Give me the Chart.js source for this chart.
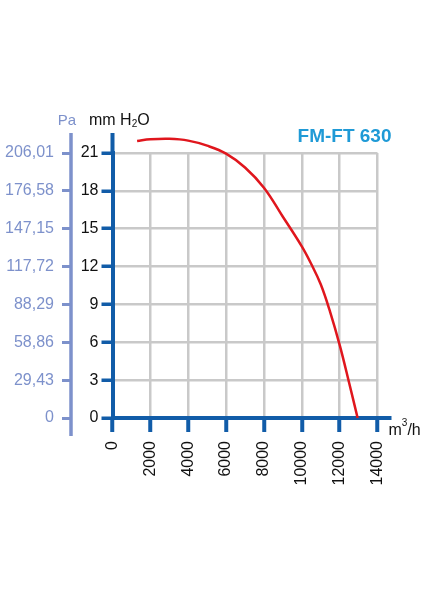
<!DOCTYPE html>
<html>
<head>
<meta charset="utf-8">
<script src="https://cdn.jsdelivr.net/npm/chart.js@4/dist/chart.umd.min.js"></script>
<style>
  html, body { margin: 0; padding: 0; background: #fff; }
</style>
</head>
<body>
<canvas id="fanChart" width="424" height="600"></canvas>
<script>
// fan curve FM-FT 630
const flowRate = [1300, 2000, 3000, 4000, 5000, 6000, 7000, 8000, 9000, 10000, 10500, 11000, 11500, 12000, 12500, 12950];
const pressureMm = [21.95, 22.08, 22.12, 21.98, 21.58, 20.95, 19.85, 18.25, 15.95, 13.6, 12.2, 10.6, 8.4, 5.8, 2.8, 0];

const xTicks = [0, 2000, 4000, 6000, 8000, 10000, 12000, 14000];
const mmTicks = [0, 3, 6, 9, 12, 15, 18, 21];
const paLabels = ['0', '29,43', '58,86', '88,29', '117,72', '147,15', '176,58', '206,01'];

const BLUE = '#115ca8';
const PA_BLUE = '#7d91cb';
const GRID = '#c9c9c9';
const RED = '#e0161d';
const FONT = '"Liberation Sans", Arial, sans-serif';

const noZero = c => (c.tick && c.tick.value === 0 ? 'rgba(0,0,0,0)' : GRID);

// axis overhangs, unit labels and model name
const extras = {
    id: 'extras',
    afterDraw(chart) {
        const { ctx, chartArea, scales } = chart;
        const top = chartArea.top - 20;
        const paX = scales.yPa.right - 1;
        ctx.save();
        ctx.lineCap = 'butt';

        ctx.strokeStyle = BLUE;
        ctx.lineWidth = 4;
        ctx.beginPath();
        ctx.moveTo(chartArea.left, chartArea.top);
        ctx.lineTo(chartArea.left, top);
        ctx.moveTo(chartArea.right, chartArea.bottom);
        ctx.lineTo(chartArea.right + 14, chartArea.bottom);
        ctx.stroke();

        ctx.strokeStyle = PA_BLUE;
        ctx.lineWidth = 3.5;
        ctx.beginPath();
        ctx.moveTo(paX, top);
        ctx.lineTo(paX, chartArea.bottom + 18);
        ctx.stroke();

        ctx.textBaseline = 'alphabetic';
        ctx.fillStyle = PA_BLUE;
        ctx.font = '15px ' + FONT;
        ctx.textAlign = 'center';
        ctx.fillText('Pa', paX - 4, top - 8);

        ctx.fillStyle = '#111';
        ctx.font = '16px ' + FONT;
        ctx.textAlign = 'left';
        let tx = 89;
        ctx.fillText('mm H', tx, top - 8);
        tx += ctx.measureText('mm H').width;
        ctx.font = '10px ' + FONT;
        ctx.fillText('2', tx, top - 6);
        tx += ctx.measureText('2').width;
        ctx.font = '16px ' + FONT;
        ctx.fillText('O', tx, top - 8);

        ctx.font = '16px ' + FONT;
        ctx.fillText('m', chartArea.right + 11, chartArea.bottom + 17);
        let mx = chartArea.right + 11 + ctx.measureText('m').width;
        ctx.font = '10px ' + FONT;
        ctx.fillText('3', mx, chartArea.bottom + 8);
        mx += ctx.measureText('3').width;
        ctx.font = '16px ' + FONT;
        ctx.fillText('/h', mx, chartArea.bottom + 17);

        ctx.fillStyle = '#1f9ad6';
        ctx.font = 'bold 19px ' + FONT;
        ctx.textAlign = 'right';
        ctx.fillText('FM-FT 630', chartArea.right + 14, chartArea.top - 11);
        ctx.restore();
    }
};

new Chart(document.getElementById('fanChart'), {
    type: 'line',
    data: {
        datasets: [{
            label: 'mm H2O',
            data: flowRate.map((f, i) => ({ x: f, y: pressureMm[i] })),
            borderColor: RED,
            borderWidth: 2.5,
            pointRadius: 0,
            tension: 0.4,
            clip: false,
            yAxisID: 'y'
        }]
    },
    options: {
        responsive: false,
        animation: false,
        layout: { padding: { top: 153, right: 46.5, bottom: 105.5, left: 0 } },
        plugins: {
            legend: { display: false },
            tooltip: { enabled: false }
        },
        scales: {
            x: {
                type: 'linear',
                min: 0,
                max: 14000,
                afterBuildTicks: s => { s.ticks = xTicks.map(v => ({ value: v })); },
                grid: { color: noZero, lineWidth: 2.5, tickLength: 14, tickColor: BLUE, tickWidth: 4 },
                border: { color: BLUE, width: 4 },
                ticks: {
                    minRotation: 90,
                    maxRotation: 90,
                    padding: 9,
                    color: '#111',
                    font: { family: FONT, size: 16 },
                    callback: v => String(v)
                }
            },
            y: {
                position: 'left',
                weight: 0,
                min: 0,
                max: 21,
                afterBuildTicks: s => { s.ticks = mmTicks.map(v => ({ value: v })); },
                afterFit: s => { s.width = 40.5; },
                grid: { color: noZero, lineWidth: 2.5, tickLength: 11, tickColor: BLUE, tickWidth: 3.5 },
                border: { color: BLUE, width: 4 },
                ticks: { padding: 3, color: '#111', font: { family: FONT, size: 16 } }
            },
            yPa: {
                position: 'left',
                weight: 1,
                min: 0,
                max: 21,
                afterBuildTicks: s => { s.ticks = mmTicks.map(v => ({ value: v })); },
                afterFit: s => { s.width = 72; },
                grid: { drawOnChartArea: false, tickLength: 10, tickColor: PA_BLUE, tickWidth: 3 },
                border: { display: false },
                ticks: {
                    padding: 8,
                    color: PA_BLUE,
                    font: { family: FONT, size: 16 },
                    callback: (v, i) => paLabels[i]
                }
            }
        }
    },
    plugins: [extras]
});
</script>
</body>
</html>
